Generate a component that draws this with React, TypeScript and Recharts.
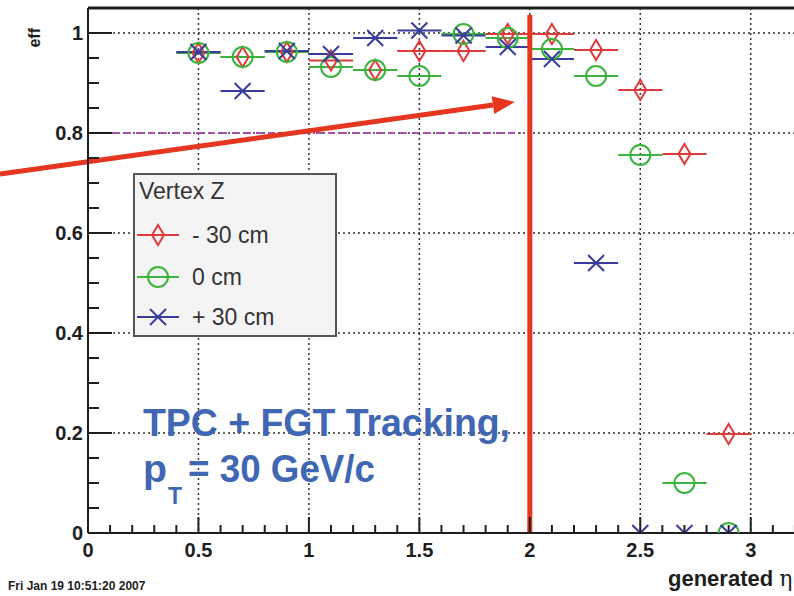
import { ScatterChart, Scatter, XAxis, YAxis, CartesianGrid, ErrorBar, ReferenceLine, Legend } from 'recharts';

// eta bin centres, each bin is 0.2 wide
const etaBins = [0.5, 0.7, 0.9, 1.1, 1.3, 1.5, 1.7, 1.9, 2.1, 2.3, 2.5, 2.7, 2.9];
const binHalfWidth = 0.1;

// efficiency per vertex z position
const effMinus30 = [0.96, 0.952, 0.962, 0.945, 0.926, 0.964, 0.964, 0.998, 0.998, 0.966, 0.886, 0.758, 0.198];
const effZero = [0.96, 0.952, 0.962, 0.932, 0.926, 0.914, 0.998, 0.99, 0.968, 0.914, 0.756, 0.1, 0.0];
const effPlus30 = [0.962, 0.884, 0.964, 0.958, 0.99, 1.005, 0.995, 0.972, 0.948, 0.54, 0.0, 0.0, 0.0];

const xTicks = [0, 0.1, 0.2, 0.3, 0.4, 0.5, 0.6, 0.7, 0.8, 0.9, 1, 1.1, 1.2, 1.3, 1.4, 1.5, 1.6, 1.7, 1.8, 1.9, 2, 2.1, 2.2, 2.3, 2.4, 2.5, 2.6, 2.7, 2.8, 2.9, 3, 3.1, 3.2, 3.3];
const xMajor = [0, 0.5, 1, 1.5, 2, 2.5, 3];
const xLabels = ['0', '0.5', '1', '1.5', '2', '2.5', '3'];
const yTicks = [0, 0.05, 0.1, 0.15, 0.2, 0.25, 0.3, 0.35, 0.4, 0.45, 0.5, 0.55, 0.6, 0.65, 0.7, 0.75, 0.8, 0.85, 0.9, 0.95, 1, 1.05];
const yMajor = [0, 0.2, 0.4, 0.6, 0.8, 1];
const yLabels = ['0', '0.2', '0.4', '0.6', '0.8', '1'];

// annotations drawn on top of the plot
const cutEta = 2;
const cutTop = 1.036;
const targetEff = 0.8;
const targetEnd = 1.96;
const arrowFrom = { x: -0.398, y: 0.718 };
const arrowTo = { x: 1.932, y: 0.862 };

const series = [
  { name: '- 30 cm', values: effMinus30, color: '#e03a3a', marker: 'diamond' },
  { name: '0 cm', values: effZero, color: '#3cb33c', marker: 'circle' },
  { name: '+ 30 cm', values: effPlus30, color: '#383c9c', marker: 'cross' },
];

const FONT = "'Liberation Sans', Arial, Helvetica, sans-serif";
const AXIS = '#1e1e1e';
const NOTE = '#3f67b3';

function findMajor(list: number[], v: number) {
  return list.findIndex((m) => Math.abs(m - v) < 1e-6);
}

function Marker({ kind, cx, cy, color }: { kind: string; cx: number; cy: number; color: string }) {
  if (kind === 'diamond') {
    return (
      <polygon
        points={`${cx},${cy - 10} ${cx + 6},${cy} ${cx},${cy + 10} ${cx - 6},${cy}`}
        fill='none'
        stroke={color}
        strokeWidth={2}
      />
    );
  }
  if (kind === 'circle') {
    return <circle cx={cx} cy={cy} r={10} fill='none' stroke={color} strokeWidth={2} />;
  }
  return (
    <path
      d={`M${cx - 8},${cy - 8}L${cx + 8},${cy + 8}M${cx - 8},${cy + 8}L${cx + 8},${cy - 8}`}
      stroke={color}
      strokeWidth={2}
      fill='none'
    />
  );
}

function XTick(props: any) {
  const { x, y, payload } = props;
  const i = findMajor(xMajor, payload.value);
  return (
    <g>
      <line x1={x} x2={x} y1={y} y2={y - (i >= 0 ? 16 : 8)} stroke={AXIS} strokeWidth={2} />
      {i >= 0 && (
        <text x={x} y={y + 24} textAnchor='middle' fontFamily={FONT} fontWeight='bold' fontSize={20} fill={AXIS}>
          {xLabels[i]}
        </text>
      )}
    </g>
  );
}

function YTick(props: any) {
  const { x, y, payload } = props;
  const i = findMajor(yMajor, payload.value);
  return (
    <g>
      <line x1={x} x2={x + (i >= 0 ? 24 : 11)} y1={y} y2={y} stroke={AXIS} strokeWidth={2} />
      {i >= 0 && (
        <text x={x - 5} y={y} dy='0.36em' textAnchor='end' fontFamily={FONT} fontWeight='bold' fontSize={20} fill={AXIS}>
          {yLabels[i]}
        </text>
      )}
    </g>
  );
}

function ArrowShape(props: any) {
  const { x1, y1, x2, y2 } = props;
  const dx = x2 - x1;
  const dy = y2 - y1;
  const len = Math.hypot(dx, dy);
  const ux = dx / len;
  const uy = dy / len;
  const bx = x2 - ux * 22;
  const by = y2 - uy * 22;
  return (
    <g>
      <line x1={x1} y1={y1} x2={bx} y2={by} stroke='#e6361f' strokeWidth={5} />
      <polygon
        points={`${x2},${y2} ${bx - uy * 9},${by + ux * 9} ${bx + uy * 9},${by - ux * 9}`}
        fill='#e6361f'
      />
    </g>
  );
}

function VertexLegend() {
  const rowTops = [48, 90, 130];
  return (
    <div
      style={{
        position: 'relative',
        width: 200,
        height: 160,
        border: '2px solid #555',
        background: '#f4f4f4',
        fontFamily: FONT,
        color: '#333',
      }}
    >
      <div style={{ position: 'absolute', left: 4, top: 2, fontSize: 23, lineHeight: '28px' }}>Vertex Z</div>
      {series.map((s, i) => (
        <div key={s.name} style={{ position: 'absolute', left: 2, top: rowTops[i], height: 24, display: 'flex', alignItems: 'center' }}>
          <svg width={44} height={24} style={{ display: 'block' }}>
            <line x1={0} x2={42} y1={12} y2={12} stroke={s.color} strokeWidth={2} />
            <Marker kind={s.marker} cx={21} cy={12} color={s.color} />
          </svg>
          <span style={{ marginLeft: 11, fontSize: 23, lineHeight: '24px' }}>{s.name}</span>
        </div>
      ))}
    </div>
  );
}

export default function App() {
  return (
    <div style={{ position: 'absolute', left: 0, top: 0, width: 794, height: 596, overflow: 'hidden', background: '#fff' }}>
      <ScatterChart width={830} height={596} margin={{ top: 8, right: 13, bottom: 0, left: 0 }}>
        <CartesianGrid
          horizontal
          vertical
          horizontalValues={yMajor.slice(1)}
          verticalValues={xMajor.slice(1)}
          stroke='#333'
          strokeWidth={1.5}
          strokeDasharray='2 3'
        />
        <XAxis
          type='number'
          dataKey='x'
          domain={[0, 3.3]}
          ticks={xTicks}
          interval={0}
          allowDataOverflow
          height={63}
          tickSize={0}
          tickMargin={0}
          tickLine={false}
          tick={<XTick />}
          axisLine={{ stroke: AXIS, strokeWidth: 2 }}
        />
        <YAxis
          type='number'
          dataKey='y'
          domain={[0, 1.05]}
          ticks={yTicks}
          interval={0}
          allowDataOverflow
          width={88}
          tickSize={0}
          tickMargin={0}
          tickLine={false}
          tick={<YTick />}
          axisLine={{ stroke: AXIS, strokeWidth: 2 }}
        />
        <ReferenceLine y={1.05} stroke={AXIS} strokeWidth={3} />
        <ReferenceLine
          segment={[{ x: 0, y: targetEff }, { x: targetEnd, y: targetEff }]}
          stroke='#b04cb0'
          strokeWidth={2}
          strokeDasharray='7 5'
        />
        {series.map((s) => (
          <Scatter
            key={s.name}
            name={s.name}
            data={etaBins.map((x, i) => ({ x, y: s.values[i], ex: binHalfWidth }))}
            fill={s.color}
            isAnimationActive={false}
            shape={(p: any) => <Marker kind={s.marker} cx={p.cx} cy={p.cy} color={s.color} />}
          >
            <ErrorBar dataKey='ex' direction='x' width={0} stroke={s.color} strokeWidth={2} />
          </Scatter>
        ))}
        <ReferenceLine
          segment={[{ x: cutEta, y: 0 }, { x: cutEta, y: cutTop }]}
          stroke='#e6361f'
          strokeWidth={5}
        />
        <ReferenceLine segment={[arrowFrom, arrowTo]} ifOverflow='visible' shape={<ArrowShape />} />
        <Legend
          layout='vertical'
          align='center'
          verticalAlign='middle'
          width={204}
          height={164}
          wrapperStyle={{ left: 133, top: 173 }}
          content={<VertexLegend />}
        />
        <text
          x={40}
          y={28}
          transform='rotate(-90 40 28)'
          textAnchor='end'
          fontFamily={FONT}
          fontWeight='bold'
          fontSize={16}
          fill={AXIS}
        >
          eff
        </text>
        <text x={143} y={436} fontFamily={FONT} fontWeight='bold' fontSize={39} fill={NOTE} textLength={367} lengthAdjust='spacingAndGlyphs'>
          TPC + FGT Tracking,
        </text>
        <text x={143} y={482} fontFamily={FONT} fontWeight='bold' fontSize={39} fill={NOTE} textLength={24} lengthAdjust='spacingAndGlyphs'>
          p
        </text>
        <text x={168} y={504} fontFamily={FONT} fontWeight='bold' fontSize={24} fill={NOTE} textLength={14} lengthAdjust='spacingAndGlyphs'>
          T
        </text>
        <text x={188} y={482} fontFamily={FONT} fontWeight='bold' fontSize={39} fill={NOTE} textLength={187} lengthAdjust='spacingAndGlyphs'>
          = 30 GeV/c
        </text>
        <text x={668} y={586} fontFamily={FONT} fontWeight='bold' fontSize={22} fill={AXIS}>
          generated <tspan fontWeight='normal' fontFamily="'DejaVu Serif', serif">η</tspan>
        </text>
        <text x={8} y={590} fontFamily={FONT} fontWeight='bold' fontSize={12} fill={AXIS}>
          Fri Jan 19 10:51:20 2007
        </text>
      </ScatterChart>
    </div>
  );
}
